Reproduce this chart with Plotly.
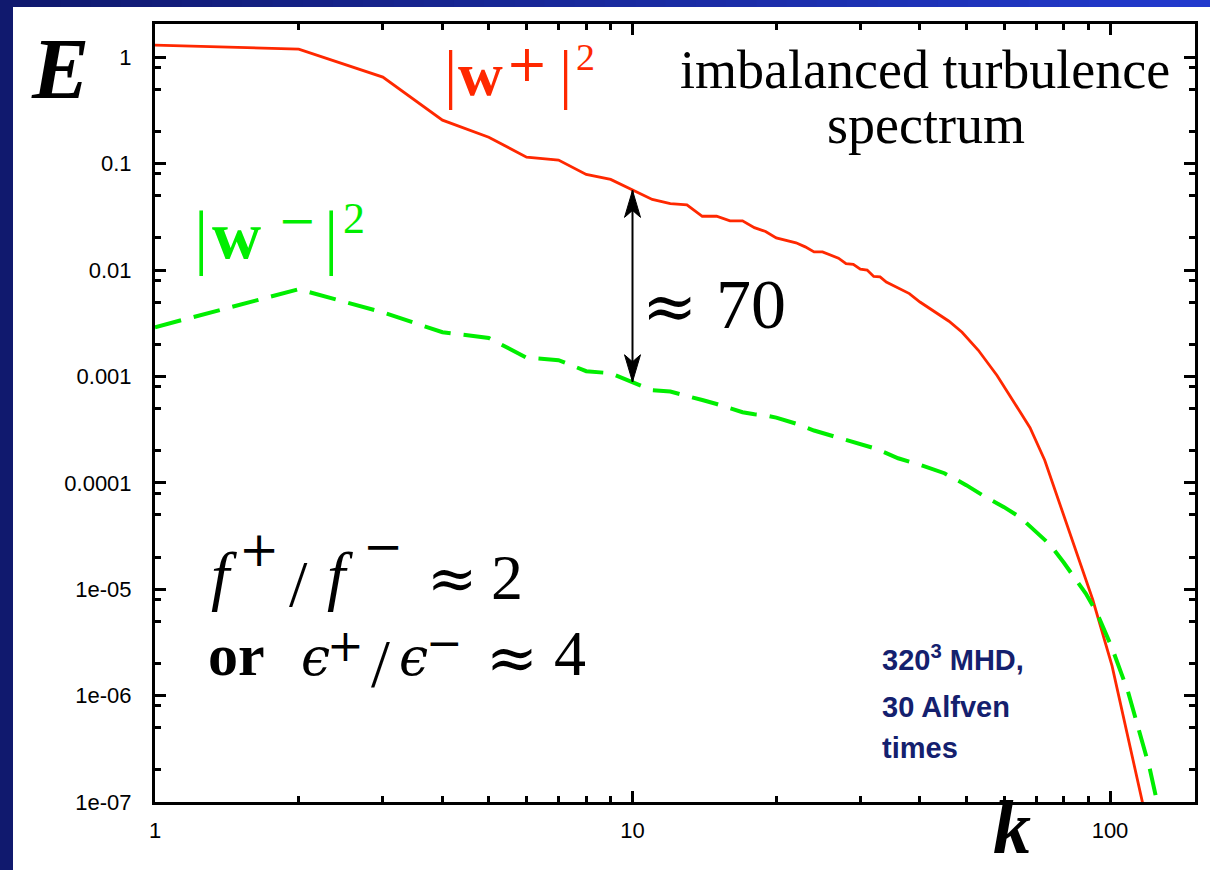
import plotly.graph_objects as go
import math

# ---------------- data ----------------
k_plus = [1, 2, 3, 4, 5, 6, 7, 8, 9, 10, 11, 12, 13, 14, 15, 16, 17, 18, 19, 20,
          21, 22, 23, 24, 25, 26, 27, 28, 29, 30, 31, 32, 33, 34, 35, 36, 38, 40,
          43, 46, 49, 53, 58, 62, 68, 73, 79, 83, 87, 92, 101, 108, 117, 121]
E_plus = [1.30, 1.19, 0.65, 0.256, 0.177, 0.115, 0.108, 0.079, 0.071, 0.056,
          0.046, 0.042, 0.041, 0.032, 0.032, 0.029, 0.029, 0.025, 0.023, 0.020,
          0.019, 0.018, 0.0165, 0.0148, 0.0148, 0.0138, 0.0129, 0.0115, 0.0113, 0.0102,
          0.0100, 0.0087, 0.0086, 0.0077, 0.0072, 0.0067, 0.0060, 0.0050,
          0.0040, 0.0033, 0.0026, 0.00176, 0.00102, 0.00064, 0.00033, 0.000163,
          0.000059, 0.000030, 0.0000165, 0.0000080, 0.0000019, 0.0000005,
          0.000000105, 0.00000005]

k_minus = [1, 2, 3, 4, 5, 6, 7, 8, 9, 10, 11, 12, 13, 14, 15, 16, 17, 18, 19, 20,
           22, 24, 26, 28, 30, 32, 34, 36, 38, 40, 45, 50, 55, 60, 65, 70, 75, 80,
           85, 89, 94, 101, 109, 115, 121, 125.5, 129]
E_minus = [0.0029, 0.0066, 0.0040, 0.0026, 0.0023, 0.0015, 0.00142, 0.00112, 0.00107, 0.00089,
           0.00074, 0.00072, 0.00066, 0.00060, 0.00055, 0.00050, 0.00046, 0.00044, 0.00043, 0.00041,
           0.00036, 0.00031, 0.00028, 0.00025, 0.00023, 0.000212, 0.00019, 0.00017, 0.000158, 0.000148,
           0.000123, 0.000095, 0.000073, 0.000059, 0.000047, 0.0000345, 0.000026, 0.0000178,
           0.0000120, 0.0000091, 0.0000059, 0.0000028, 0.0000011, 0.00000047, 0.00000021,
           0.000000100, 0.00000006]

x_tickvals = [1, 10, 100]
x_ticktext = ["1", "10", "100"]
y_tickvals = [1e-7, 1e-6, 1e-5, 1e-4, 1e-3, 1e-2, 1e-1, 1]
y_ticktext = ["1e-07", "1e-06", "1e-05", "0.0001", "0.001", "0.01", "0.1", "1"]

arrow_k = 10  # position of the double arrow

# ---------------- styling ----------------
RED = "#ff2800"
GREEN = "#00ee00"
NAVY = "#10196e"
TEXTNAVY = "#14206e"
SERIF = "Liberation Serif, Times New Roman, serif"
MATH = "DejaVu Serif, serif"
SANS = "Liberation Sans, Arial, sans-serif"

W_PX, H_PX = 1210, 870
PL, PR, PT, PB = 155, 1195, 24, 802
PW, PH = PR - PL, PB - PT


def fx(x):
    return (x - PL) / PW


def fy(y):
    return (PB - y) / PH


x_minor = [m * 10 ** e for e in range(0, 3) for m in range(2, 10) if m * 10 ** e < 150]
y_minor = [m * 10.0 ** e for e in range(-7, 1) for m in (2, 5, 8) if m * 10.0 ** e < 2]

fig = go.Figure()
fig.add_trace(go.Scatter(x=k_plus, y=E_plus, mode="lines",
                         line=dict(color=RED, width=2.8), showlegend=False))
fig.add_trace(go.Scatter(x=k_minus, y=E_minus, mode="lines",
                         line=dict(color=GREEN, width=4, dash="27px,13px"), showlegend=False))

shapes = []
# white panel over navy background
shapes.append(dict(type="rect", xref="paper", yref="paper", layer="below",
                   x0=fx(13), x1=fx(1215), y0=fy(875), y1=fy(7),
                   fillcolor="white", line=dict(width=0)))
# top gradient band
nseg = 40
c0 = (16, 25, 110)
c1 = (34, 58, 205)
for i in range(nseg):
    t = i / (nseg - 1)
    c = tuple(int(round(c0[j] + (c1[j] - c0[j]) * t)) for j in range(3))
    xa = i * W_PX / nseg
    xb = (i + 1) * W_PX / nseg + 1
    shapes.append(dict(type="rect", xref="paper", yref="paper", layer="below",
                       x0=fx(xa), x1=fx(xb), y0=fy(7), y1=fy(-2),
                       fillcolor="rgb(%d,%d,%d)" % c, line=dict(width=0)))

# double arrow between the curves at k = arrow_k
iy_top = E_plus[k_plus.index(arrow_k)]
iy_bot = E_minus[k_minus.index(arrow_k)]
shapes.append(dict(type="line", xref="x", yref="y", x0=arrow_k, x1=arrow_k,
                   y0=iy_bot, y1=iy_top, line=dict(color="black", width=2)))
shapes.append(dict(type="path", xref="x", yref="y", xsizemode="pixel", ysizemode="pixel",
                   xanchor=arrow_k, yanchor=iy_top,
                   path="M0,0 L-8,-27 L0,-20 L8,-27 Z",
                   fillcolor="black", line=dict(color="black", width=1)))
shapes.append(dict(type="path", xref="x", yref="y", xsizemode="pixel", ysizemode="pixel",
                   xanchor=arrow_k, yanchor=iy_bot,
                   path="M0,0 L-8,27 L0,20 L8,27 Z",
                   fillcolor="black", line=dict(color="black", width=1)))

ann = []


def txt(text, x, y, size, color="black", family=SERIF, xanchor="left", base=True):
    """Place text; if base, y is the text baseline, otherwise the glyph centre."""
    yc = y - 0.34 * size if base else y
    ann.append(dict(text=text, x=fx(x), y=fy(yc), xref="paper", yref="paper",
                    xanchor=xanchor, yanchor="middle", showarrow=False,
                    borderpad=0,
                    font=dict(size=size, color=color, family=family)))


# axis titles
txt("<b><i>E</i></b>", 60, 98, 86, xanchor="center")
txt("<b><i>k</i></b>", 1012, 853, 76, xanchor="center")

# |w+|^2 (red)
txt("|", 443, 96, 66, RED)
txt("<b>w</b>", 457, 95, 62, RED)
txt("+", 505, 64, 50, RED, MATH, base=False)
txt("|", 558, 96, 66, RED)
txt("2", 575, 70, 38, RED)

# |w-|^2 (green)
txt("|", 193, 261, 72, GREEN)
txt("<b>w</b>", 211, 258, 68, GREEN)
txt("−", 277, 220, 46, GREEN, MATH, base=False)
txt("|", 323, 261, 72, GREEN)
txt("2", 342, 233, 44, GREEN)

# title text
txt("imbalanced turbulence", 925, 88, 54, xanchor="center")
txt("spectrum", 926, 143, 54, xanchor="center")

# ≈ 70
txt("≈", 641, 306, 66, family=MATH, base=False)
txt("70", 715, 328, 70)

# f+/f- ≈ 2
txt("<i>f</i>", 210, 598, 66)
txt("+", 238, 549, 48, family=MATH, base=False)
txt("/", 288, 606, 66)
txt("<i>f</i>", 326, 598, 66)
txt("−", 362, 546, 48, family=MATH, base=False)
txt("≈", 426, 578, 60, family=MATH, base=False)
txt("2", 490, 599, 64)

# or ϵ+/ϵ- ≈ 4
txt("<b>or</b>", 207, 675, 60)
txt("<i>ϵ</i>", 300, 675, 52, family=MATH)
txt("+", 326, 645, 44, family=MATH, base=False)
txt("/", 370, 686, 68)
txt("<i>ϵ</i>", 398, 675, 52, family=MATH)
txt("−", 425, 642, 44, family=MATH, base=False)
txt("≈", 485, 657, 62, family=MATH, base=False)
txt("4", 553, 675, 64)

# simulation note
txt("<b>320<sup>3</sup> MHD,</b>", 881, 668, 29, TEXTNAVY, SANS)
txt("<b>30 Alfven</b>", 881, 717, 29, TEXTNAVY, SANS)
txt("<b>times</b>", 881, 758, 29, TEXTNAVY, SANS)

axis_common = dict(showline=True, linecolor="black", linewidth=3, mirror="allticks",
                   ticks="inside", ticklen=11, tickwidth=2.5, tickcolor="black",
                   showgrid=False, zeroline=False,
                   tickfont=dict(family=SANS, size=22, color="black"))

fig.update_layout(
    width=W_PX, height=H_PX,
    margin=dict(l=PL, r=W_PX - PR, t=PT, b=H_PX - PB),
    paper_bgcolor=NAVY, plot_bgcolor="white",
    shapes=shapes, annotations=ann, showlegend=False,
    xaxis=dict(type="log", range=[0, PW / 477.5],
               tickvals=x_tickvals, ticktext=x_ticktext, ticklabelstandoff=7,
               minor=dict(tickvals=x_minor, ticks="inside", ticklen=6, tickwidth=2.5,
                          tickcolor="black", showgrid=False),
               **axis_common),
    yaxis=dict(type="log", range=[-7, -7 + PH / 106.4],
               tickvals=y_tickvals, ticktext=y_ticktext, ticklabelstandoff=16,
               minor=dict(tickvals=y_minor, ticks="inside", ticklen=6, tickwidth=2.5,
                          tickcolor="black", showgrid=False),
               **axis_common),
)

fig.write_html("out.html")
